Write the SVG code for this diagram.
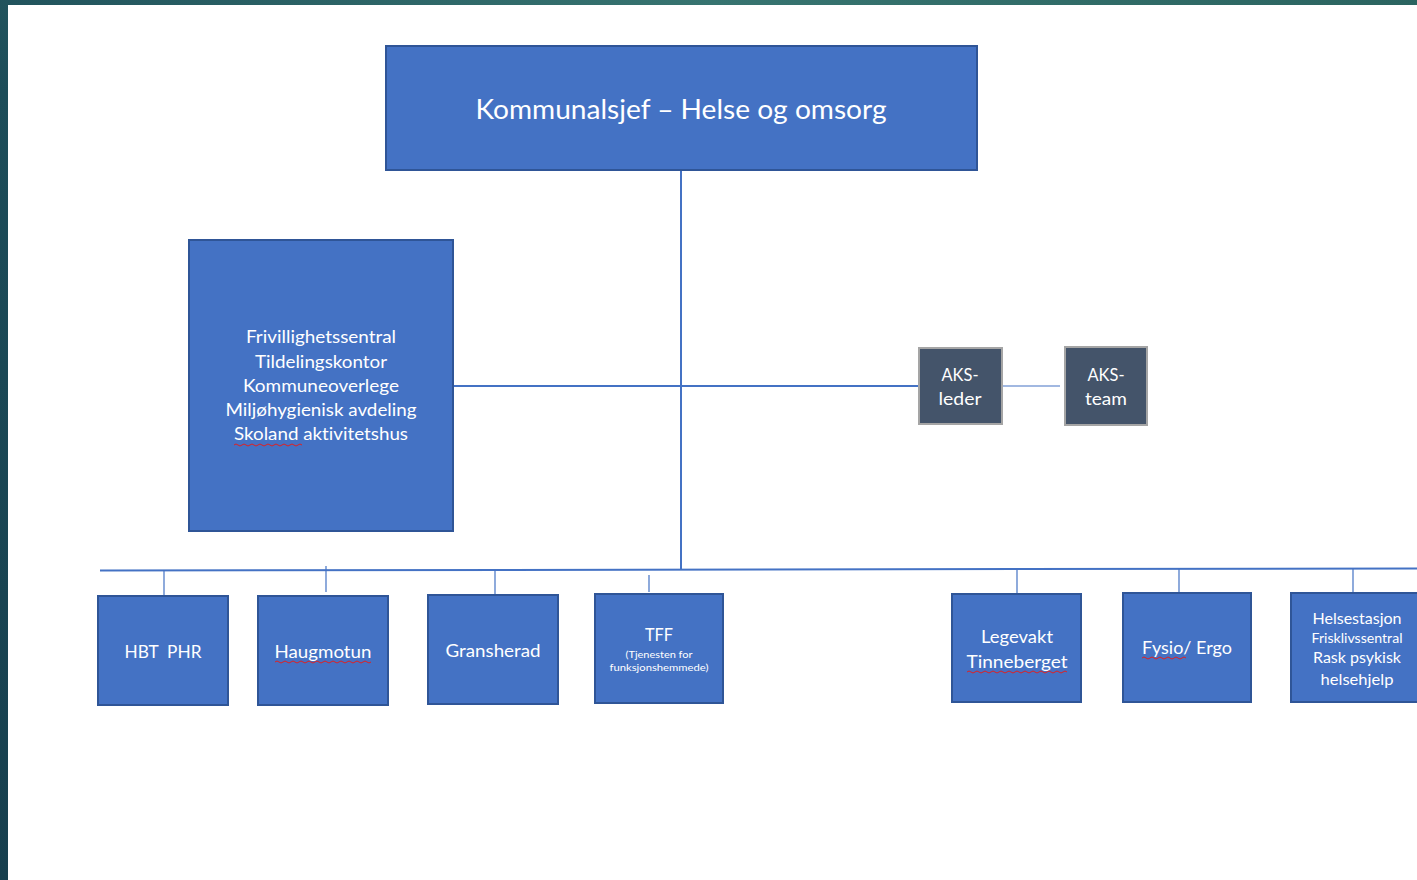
<svg xmlns="http://www.w3.org/2000/svg" width="1417" height="880" viewBox="0 0 1417 880">
<defs>
<linearGradient id="bg" x1="0" y1="1" x2="1" y2="0">
<stop offset="0" stop-color="#173f4e"/>
<stop offset="0.45" stop-color="#1d4d59"/>
<stop offset="0.75" stop-color="#377470"/>
<stop offset="1" stop-color="#2b6460"/>
</linearGradient>
<style>
.box{fill:#4472C4;stroke:#2F5597;stroke-width:2}
.aks{fill:#44546A;stroke:#A5A5A5;stroke-width:2}
.t{font-family:Lato,"Open Sans","Liberation Sans",sans-serif;fill:#ffffff;text-anchor:middle;font-variant-ligatures:none}
.ln{stroke:#4472C4;stroke-width:2;fill:none}
.thin{stroke:#4472C4;stroke-width:1.2;fill:none}
.sq{stroke:#E02020;stroke-width:1;fill:none}
</style>
</defs>
<rect x="0" y="0" width="1417" height="880" fill="url(#bg)"/>
<rect x="8" y="5" width="1409" height="875" fill="#ffffff"/>

<g id="connectors">
<line class="ln" x1="681" y1="170" x2="681" y2="570"/>
<line class="ln" x1="453" y1="386" x2="919" y2="386"/>
<line class="thin" x1="1002" y1="386" x2="1060" y2="386"/>
<line class="ln" x1="100" y1="570.5" x2="1417" y2="568.5"/>
<line class="thin" x1="164" y1="570" x2="164" y2="596"/>
<line class="thin" x1="326" y1="566" x2="326" y2="592"/>
<line class="thin" x1="495" y1="570" x2="495" y2="595"/>
<line class="thin" x1="649" y1="575" x2="649" y2="592"/>
<line class="thin" x1="1017" y1="569" x2="1017" y2="594"/>
<line class="thin" x1="1179" y1="569" x2="1179" y2="593"/>
<line class="thin" x1="1353" y1="569" x2="1353" y2="593"/>
</g>

<g id="kommunalsjef">
<rect class="box" x="386" y="46" width="591" height="124"/>
<text class="t" x="681" y="119" font-size="26" textLength="411" lengthAdjust="spacingAndGlyphs">Kommunalsjef – Helse og omsorg</text>
</g>

<g id="stab">
<rect class="box" x="189" y="240" width="264" height="291"/>
<text class="t" x="321" y="343" font-size="17" textLength="150" lengthAdjust="spacingAndGlyphs">Frivillighetssentral</text>
<text class="t" x="321" y="368" font-size="17" textLength="132" lengthAdjust="spacingAndGlyphs">Tildelingskontor</text>
<text class="t" x="321" y="392" font-size="17" textLength="156" lengthAdjust="spacingAndGlyphs">Kommuneoverlege</text>
<text class="t" x="321" y="416" font-size="17" textLength="191" lengthAdjust="spacingAndGlyphs">Miljøhygienisk avdeling</text>
<text class="t" x="321" y="440" font-size="17" textLength="174" lengthAdjust="spacingAndGlyphs">Skoland aktivitetshus</text>
<path class="sq" d="M234 445 q2 -2 4 0 t4 0 t4 0 t4 0 t4 0 t4 0 t4 0 t4 0 t4 0 t4 0 t4 0 t4 0 t4 0 t4 0 t4 0 t4 0 t4 0"/>
</g>

<g id="aks-leder">
<rect class="aks" x="919" y="348" width="83" height="76"/>
<text class="t" x="960" y="381" font-size="17" textLength="37" lengthAdjust="spacingAndGlyphs">AKS-</text>
<text class="t" x="960" y="405" font-size="17" textLength="43" lengthAdjust="spacingAndGlyphs">leder</text>
</g>

<g id="aks-team">
<rect class="aks" x="1065" y="347" width="82" height="78"/>
<text class="t" x="1106" y="381" font-size="17" textLength="37" lengthAdjust="spacingAndGlyphs">AKS-</text>
<text class="t" x="1106" y="405" font-size="17" textLength="42" lengthAdjust="spacingAndGlyphs">team</text>
</g>

<g id="hbt-phr">
<rect class="box" x="98" y="596" width="130" height="109"/>
<text class="t" x="163" y="658" font-size="17" textLength="77" lengthAdjust="spacingAndGlyphs" xml:space="preserve">HBT  PHR</text>
</g>

<g id="haugmotun">
<rect class="box" x="258" y="596" width="130" height="109"/>
<text class="t" x="323" y="658" font-size="17" textLength="97" lengthAdjust="spacingAndGlyphs">Haugmotun</text>
<path class="sq" d="M275 662 q2 -2 4 0 t4 0 t4 0 t4 0 t4 0 t4 0 t4 0 t4 0 t4 0 t4 0 t4 0 t4 0 t4 0 t4 0 t4 0 t4 0 t4 0 t4 0 t4 0 t4 0 t4 0 t4 0 t4 0 t4 0"/>
</g>

<g id="gransherad">
<rect class="box" x="428" y="595" width="130" height="109"/>
<text class="t" x="493" y="657" font-size="17" textLength="95" lengthAdjust="spacingAndGlyphs">Gransherad</text>
</g>

<g id="tff">
<rect class="box" x="595" y="594" width="128" height="109"/>
<text class="t" x="659" y="641" font-size="17" textLength="28" lengthAdjust="spacingAndGlyphs">TFF</text>
<text class="t" x="659" y="658" font-size="10" textLength="67" lengthAdjust="spacingAndGlyphs">(Tjenesten for</text>
<text class="t" x="659" y="671" font-size="10" textLength="99" lengthAdjust="spacingAndGlyphs">funksjonshemmede)</text>
</g>

<g id="legevakt">
<rect class="box" x="952" y="594" width="129" height="108"/>
<text class="t" x="1017" y="643" font-size="17" textLength="72" lengthAdjust="spacingAndGlyphs">Legevakt</text>
<text class="t" x="1017" y="668" font-size="17" textLength="101" lengthAdjust="spacingAndGlyphs">Tinneberget</text>
<path class="sq" d="M967 672 q2 -2 4 0 t4 0 t4 0 t4 0 t4 0 t4 0 t4 0 t4 0 t4 0 t4 0 t4 0 t4 0 t4 0 t4 0 t4 0 t4 0 t4 0 t4 0 t4 0 t4 0 t4 0 t4 0 t4 0 t4 0 t4 0"/>
</g>

<g id="fysio-ergo">
<rect class="box" x="1123" y="593" width="128" height="109"/>
<text class="t" x="1187" y="654" font-size="17" textLength="90" lengthAdjust="spacingAndGlyphs">Fysio/ Ergo</text>
<path class="sq" d="M1142 658 q2 -2 4 0 t4 0 t4 0 t4 0 t4 0 t4 0 t4 0 t4 0 t4 0 t4 0 t4 0"/>
</g>

<g id="helsestasjon">
<rect class="box" x="1291" y="593" width="130" height="109"/>
<text class="t" x="1357" y="624" font-size="16" textLength="89" lengthAdjust="spacingAndGlyphs">Helsestasjon</text>
<text class="t" x="1357" y="643" font-size="14" textLength="91" lengthAdjust="spacingAndGlyphs">Frisklivssentral</text>
<text class="t" x="1357" y="663" font-size="16" textLength="88" lengthAdjust="spacingAndGlyphs">Rask psykisk</text>
<text class="t" x="1357" y="685" font-size="16" textLength="73" lengthAdjust="spacingAndGlyphs">helsehjelp</text>
</g>
</svg>
